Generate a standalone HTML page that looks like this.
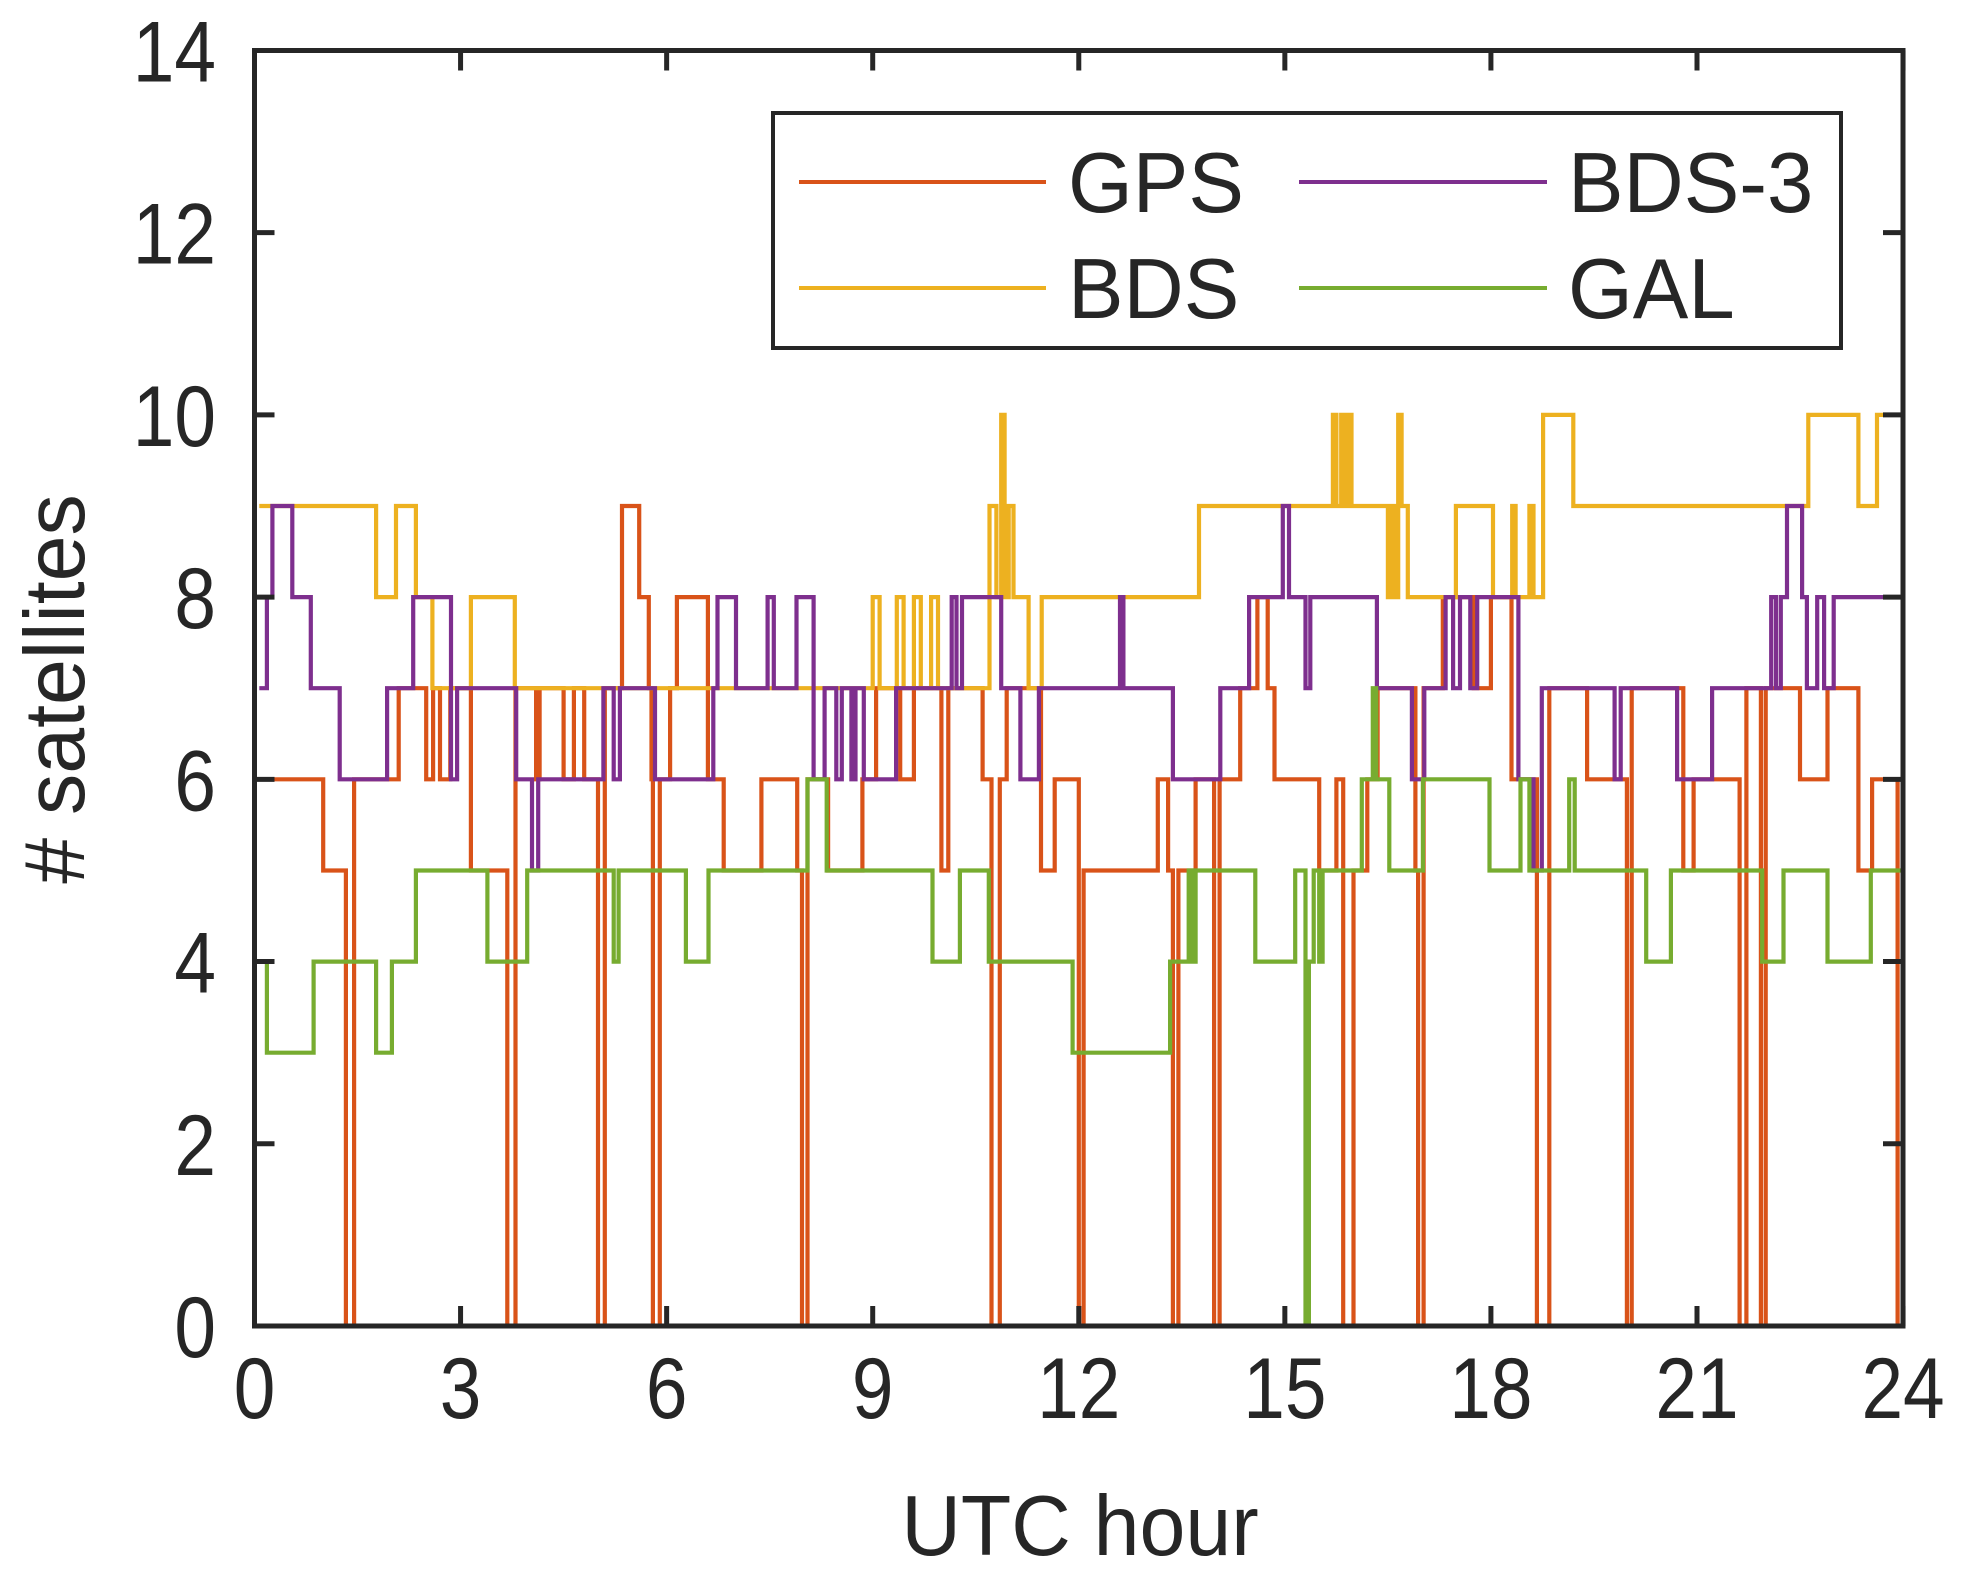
<!DOCTYPE html>
<html><head><meta charset="utf-8"><style>
html,body{margin:0;padding:0;background:#fff;}
svg{display:block;}
text{font-family:"Liberation Sans",sans-serif;fill:#262626;}
</style></head><body>
<svg id="s" width="1964" height="1590" viewBox="0 0 1964 1590" xmlns="http://www.w3.org/2000/svg">
<rect width="1964" height="1590" fill="#fff"/>
<g id="series" fill="none" stroke-width="4.2" stroke-linejoin="miter"></g>
<g id="axes" stroke="#262626" stroke-width="5" fill="none">
<rect x="254.5" y="50.5" width="1648.5" height="1275.5"/>
</g>
<g id="ticks" stroke="#262626" stroke-width="5"></g>
<g id="labels" font-size="86"></g>
<g transform="translate(1080,1555) scale(0.97,1)"><text x="0" y="0" font-size="85" text-anchor="middle">UTC hour</text></g>
<g transform="translate(84,689) rotate(-90) scale(0.97,1)"><text x="0" y="0" font-size="85" text-anchor="middle"># satellites</text></g>
<g>
<rect x="773" y="113" width="1068" height="235" fill="#fff" stroke="#262626" stroke-width="4"/>
<line x1="799" y1="182" x2="1046" y2="182" stroke="#D95319" stroke-width="4"/>
<line x1="799" y1="288" x2="1046" y2="288" stroke="#EDB120" stroke-width="4"/>
<line x1="1299" y1="182" x2="1547" y2="182" stroke="#7E2F8E" stroke-width="4"/>
<line x1="1299" y1="288" x2="1547" y2="288" stroke="#77AC30" stroke-width="4"/>
<g transform="translate(1068,212) scale(0.98,1)"><text x="0" y="0" font-size="85" fill="#000">GPS</text></g>
<g transform="translate(1068,318) scale(0.98,1)"><text x="0" y="0" font-size="85" fill="#000">BDS</text></g>
<g transform="translate(1568,212) scale(0.98,1)"><text x="0" y="0" font-size="85" fill="#000">BDS-3</text></g>
<g transform="translate(1568,318) scale(0.98,1)"><text x="0" y="0" font-size="85" fill="#000">GAL</text></g>
</g>
</svg>
<script>
var X=function(h){return 254.5+h*68.69;},Y=function(v){return 1326-v*91.11;};
var NS="http://www.w3.org/2000/svg";
function el(p,n,a){var e=document.createElementNS(NS,n);for(var k in a)e.setAttribute(k,a[k]);p.appendChild(e);return e;}
function step(d){var s="M"+X(d[0][0]).toFixed(1)+","+Y(d[0][1]).toFixed(1);
for(var i=1;i<d.length;i++){s+="H"+X(d[i][0]).toFixed(1)+"V"+Y(d[i][1]).toFixed(1);}
s+="H"+X(24).toFixed(1);return s;}
var GPS=[[0.07,6],[1.0,5],[1.33,0],[1.4,0],[1.45,6],[2.1,7],[2.5,6],[2.6,7],[2.7,6],[2.85,7],[3.15,5],[3.68,0],[3.8,7],[4.1,6],[4.15,7],[4.5,6],[4.65,7],[4.8,6],[5.0,0],[5.1,7],[5.35,9],[5.6,8],[5.74,7],[5.78,6],[5.8,0],[5.9,6],[6.05,7],[6.15,8],[6.6,6],[6.83,5],[7.38,6],[7.9,5],[7.97,0],[8.05,6],[8.35,5],[8.85,6],[9.05,7],[9.4,6],[9.6,7],[10.0,5],[10.1,7],[10.6,6],[10.73,0],[10.85,6],[10.95,7],[11.45,5],[11.65,6],[12.0,0],[12.07,5],[13.15,6],[13.3,5],[13.37,0],[13.45,5],[13.7,6],[13.97,0],[14.05,6],[14.35,7],[14.6,8],[14.75,7],[14.85,6],[15.5,5],[15.75,6],[15.85,0],[16.0,5],[16.2,6],[16.35,7],[16.9,5],[16.94,0],[17.02,7],[17.3,8],[17.75,7],[18.0,8],[18.3,6],[18.67,0],[18.85,7],[19.4,6],[19.98,0],[20.05,7],[20.8,5],[20.95,6],[21.62,0],[21.72,7],[21.93,0],[22.0,7],[22.5,6],[22.9,7],[23.35,5],[23.55,6],[23.92,0]];
var BDS=[[0.07,9],[1.77,8],[2.06,9],[2.35,8],[2.59,7],[3.15,8],[3.79,7],[9.0,8],[9.1,7],[9.35,8],[9.45,7],[9.6,8],[9.7,7],[9.85,8],[9.95,7],[10.7,9],[10.8,8],[10.87,10],[10.92,8],[10.98,9],[11.05,8],[11.27,7],[11.46,8],[13.75,9],[15.7,10],[15.75,9],[15.82,10],[15.87,9],[15.92,10],[15.97,9],[16.5,8],[16.55,9],[16.6,8],[16.65,10],[16.7,9],[16.79,8],[17.49,9],[18.03,8],[18.31,9],[18.36,8],[18.56,9],[18.62,8],[18.76,10],[19.2,9],[22.62,10],[23.35,9],[23.62,10]];
var B3=[[0.07,7],[0.18,8],[0.26,9],[0.55,8],[0.82,7],[1.24,6],[1.93,7],[2.31,8],[2.86,6],[2.95,7],[3.81,6],[4.04,5],[4.13,6],[5.08,7],[5.23,6],[5.32,7],[5.83,6],[6.68,7],[6.74,8],[7.01,7],[7.47,8],[7.56,7],[7.89,8],[8.14,6],[8.3,7],[8.47,6],[8.55,7],[8.69,6],[8.75,7],[8.87,6],[9.34,7],[10.15,8],[10.22,7],[10.3,8],[10.87,7],[11.15,6],[11.42,7],[12.6,8],[12.65,7],[13.37,6],[14.06,7],[14.48,8],[14.97,9],[15.06,8],[15.3,7],[15.37,8],[16.34,7],[16.85,6],[17.03,7],[17.34,8],[17.45,7],[17.55,8],[17.7,7],[17.8,8],[18.4,6],[18.62,5],[18.74,7],[19.8,6],[19.89,7],[20.71,6],[21.22,7],[22.08,8],[22.15,7],[22.22,8],[22.31,9],[22.53,8],[22.6,7],[22.75,8],[22.85,7],[22.99,8]];
var GAL=[[0.07,4],[0.18,3],[0.86,4],[1.77,3],[2.0,4],[2.35,5],[3.39,4],[3.97,5],[5.23,4],[5.3,5],[6.28,4],[6.61,5],[8.05,6],[8.33,5],[9.87,4],[10.27,5],[10.69,4],[11.91,3],[13.33,4],[13.6,5],[13.65,4],[13.7,5],[14.57,4],[15.15,5],[15.3,0],[15.35,4],[15.42,5],[15.5,4],[15.55,5],[16.12,6],[16.28,7],[16.33,6],[16.52,5],[17.01,6],[17.98,5],[18.43,6],[18.56,5],[19.14,6],[19.22,5],[20.26,4],[20.62,5],[21.95,4],[22.26,5],[22.9,4],[23.53,5]];
var g=document.getElementById("series");
[[GPS,"#D95319"],[BDS,"#EDB120"],[B3,"#7E2F8E"],[GAL,"#77AC30"]].forEach(function(p){el(g,"path",{d:step(p[0]),stroke:p[1]});});
var t=document.getElementById("ticks"),L=document.getElementById("labels");
for(var h=0;h<=24;h+=3){var x=X(h);el(t,"line",{x1:x,y1:1326,x2:x,y2:1306});el(t,"line",{x1:x,y1:50.5,x2:x,y2:70.5});
var gg=el(L,"g",{transform:"translate("+x+",1418) scale(0.87,1)"});
var e=el(gg,"text",{x:0,y:0,"text-anchor":"middle"});e.textContent=h;}
for(var v=0;v<=14;v+=2){var y=Y(v);el(t,"line",{x1:254.5,y1:y,x2:274.5,y2:y});el(t,"line",{x1:1903,y1:y,x2:1883,y2:y});
var gg2=el(L,"g",{transform:"translate(216,"+(y+31)+") scale(0.87,1)"});
var e2=el(gg2,"text",{x:0,y:0,"text-anchor":"end"});e2.textContent=v;}
</script>
</body></html>
